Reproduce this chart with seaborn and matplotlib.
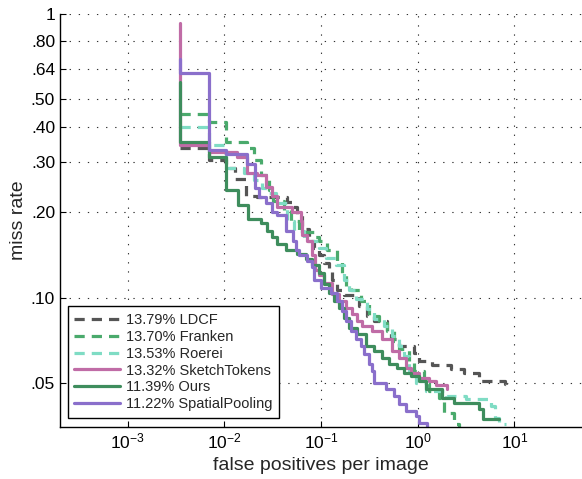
import matplotlib
matplotlib.use("Agg")
import matplotlib.pyplot as plt
import seaborn as sns

# ROC curves: false positives per image vs miss rate (step curves)
ldcf_fppi = [0.0035, 0.0070, 0.0105, 0.013, 0.0169, 0.0219, 0.0446, 0.0502, 0.0566, 0.0637,
             0.0752, 0.0847, 0.0954, 0.1074, 0.121, 0.1298, 0.1462, 0.1726, 0.2465, 0.298,
             0.3518, 0.479, 0.5267, 0.6369, 0.909, 1.024, 1.394, 2.19, 2.98, 4.255, 8.08, 8.27]
ldcf_miss = [0.336, 0.305, 0.286, 0.263, 0.229, 0.226, 0.217, 0.208, 0.195, 0.175,
             0.159, 0.150, 0.141, 0.133, 0.123, 0.115, 0.106, 0.102, 0.0937, 0.0864,
             0.0830, 0.0764, 0.0716, 0.0677, 0.0639, 0.0599, 0.0580, 0.0561, 0.0543, 0.0509, 0.0497, 0.0489]

franken_fppi = [0.0035, 0.0070, 0.0105, 0.0173, 0.0204, 0.0241, 0.0291, 0.032, 0.0416, 0.0491,
                0.0593, 0.0847, 0.0954, 0.1153, 0.1462, 0.1646, 0.181, 0.2038, 0.2585, 0.3126,
                0.3962, 0.479, 0.5657, 0.6369, 0.8077, 0.9094, 1.153, 1.298, 1.646, 1.854, 2.35, 2.647]
franken_miss = [0.443, 0.415, 0.353, 0.336, 0.305, 0.270, 0.239, 0.220, 0.203, 0.187,
                0.170, 0.163, 0.159, 0.147, 0.135, 0.120, 0.110, 0.106, 0.0976, 0.0864,
                0.0816, 0.0764, 0.0705, 0.0660, 0.0599, 0.0552, 0.0501, 0.0469, 0.0443, 0.0392, 0.0359, 0.0339]

roerei_fppi = [0.0035, 0.0070, 0.0105, 0.0161, 0.0204, 0.0247, 0.0277, 0.0344, 0.0446, 0.0527,
               0.0668, 0.0954, 0.1126, 0.1427, 0.1726, 0.1943, 0.2295, 0.298, 0.3518, 0.4461,
               0.5395, 0.6369, 0.7171, 0.8077, 0.9537, 1.209, 1.944, 3.125, 5.79, 6.37, 7.0, 8.27]
roerei_miss = [0.399, 0.344, 0.286, 0.276, 0.259, 0.243, 0.233, 0.215, 0.187, 0.172,
               0.159, 0.150, 0.138, 0.130, 0.115, 0.106, 0.0992, 0.0914, 0.0843, 0.0796,
               0.0734, 0.0677, 0.0624, 0.0543, 0.0501, 0.0469, 0.0450, 0.0439, 0.0415, 0.0377, 0.0359, 0.0359]

sketch_fppi = [0.0035, 0.0035, 0.0070, 0.0136, 0.0173, 0.0219, 0.0271, 0.0313, 0.0352, 0.0502,
               0.0622, 0.0637, 0.0717, 0.0808, 0.0867, 0.0954, 0.1074, 0.1298, 0.1533, 0.181,
               0.2087, 0.235, 0.2646, 0.3355, 0.4254, 0.5395, 0.6369, 0.7522, 0.8469, 1.024,
               1.298, 1.533, 1.991]
sketch_miss = [0.929, 0.344, 0.325, 0.312, 0.276, 0.270, 0.245, 0.229, 0.208, 0.200,
               0.187, 0.166, 0.159, 0.141, 0.125, 0.120, 0.113, 0.103, 0.0976, 0.0922,
               0.0878, 0.0830, 0.0796, 0.0764, 0.0716, 0.0650, 0.0614, 0.0566, 0.0543, 0.0522,
               0.0509, 0.0493, 0.0477]

ours_fppi = [0.0035, 0.0035, 0.0070, 0.0105, 0.0139, 0.0177, 0.0241, 0.0277, 0.0313, 0.0352,
             0.0436, 0.0566, 0.0701, 0.0808, 0.0954, 0.1074, 0.121, 0.1361, 0.1533, 0.1726,
             0.1943, 0.235, 0.291, 0.352, 0.425, 0.502, 0.607, 0.717, 0.847, 1.024,
             1.209, 1.768, 2.35, 4.255, 4.79, 7.0]
ours_miss = [0.575, 0.353, 0.312, 0.239, 0.213, 0.190, 0.183, 0.172, 0.163, 0.154,
             0.147, 0.143, 0.137, 0.130, 0.122, 0.112, 0.104, 0.0976, 0.0922, 0.0850,
             0.0783, 0.0746, 0.0677, 0.0650, 0.0614, 0.0584, 0.0566, 0.0543, 0.0530, 0.0509,
             0.0477, 0.0443, 0.0426, 0.0405, 0.0374, 0.0374]

spatial_fppi = [0.0035, 0.0035, 0.0070, 0.0105, 0.0173, 0.0209, 0.0230, 0.0271, 0.0313, 0.0352,
                0.0436, 0.0514, 0.0553, 0.0593, 0.0717, 0.0808, 0.0847, 0.100, 0.1268, 0.1462,
                0.1646, 0.181, 0.2038, 0.2295, 0.2585, 0.2774, 0.3126, 0.3355, 0.3518, 0.4678,
                0.5657, 0.6369, 0.7522, 0.9537, 1.024, 1.238]
spatial_miss = [0.693, 0.619, 0.331, 0.320, 0.297, 0.243, 0.226, 0.215, 0.201, 0.195,
                0.172, 0.159, 0.147, 0.141, 0.135, 0.128, 0.115, 0.108, 0.104, 0.0976,
                0.0900, 0.0830, 0.0764, 0.0716, 0.0677, 0.0634, 0.0584, 0.0552, 0.0501, 0.0477,
                0.0450, 0.0422, 0.0399, 0.0383, 0.0362, 0.0339]

labels = ["13.79% LDCF", "13.70% Franken", "13.53% Roerei",
          "13.32% SketchTokens", "11.39% Ours", "11.22% SpatialPooling"]
yticks = [0.05, 0.10, 0.20, 0.30, 0.40, 0.50, 0.64, 0.80, 1.0]
ytick_labels = [".05", ".10", ".20", ".30", ".40", ".50", ".64", ".80", "1"]
xticks = [1e-3, 1e-2, 1e-1, 1e0, 1e1]
xtick_labels = ["$10^{-3}$", "$10^{-2}$", "$10^{-1}$", "$10^{0}$", "$10^{1}$"]

series = [
    (ldcf_fppi, ldcf_miss, "#555555", True),
    (franken_fppi, franken_miss, "#4aaa6c", True),
    (roerei_fppi, roerei_miss, "#7fdcc4", True),
    (sketch_fppi, sketch_miss, "#c06ca6", False),
    (ours_fppi, ours_miss, "#3e8d5d", False),
    (spatial_fppi, spatial_miss, "#8a6fcb", False),
]

sns.set_style("ticks")
plt.rcParams["font.family"] = ["Liberation Sans", "DejaVu Sans"]
plt.rcParams["mathtext.default"] = "regular"

fig = plt.figure(figsize=(5.82, 4.79), dpi=100)
ax = fig.add_axes([0.103, 0.1086, 0.897, 0.8622])
ax.set_xscale("log")
ax.set_yscale("log")

for fppi, miss, color, dashed in series:
    sns.lineplot(x=fppi, y=miss, ax=ax, estimator=None, sort=False, errorbar=None,
                 color=color, lw=2.3, drawstyle="steps-post", legend=False,
                 linestyle="--" if dashed else "-")
    if dashed:
        ax.lines[-1].set_dashes([3.2, 2.2])

ax.set_xlim(2e-4, 50)
ax.set_ylim(0.035, 1)
ax.set_xticks(xticks)
ax.set_xticklabels(xtick_labels)
ax.set_yticks(yticks)
ax.set_yticklabels(ytick_labels)
ax.minorticks_off()
ax.tick_params(direction="in", length=4, width=0.8, labelsize=12.5, colors="black",
               top=False, right=False)

ax.grid(True, which="major", color="#333333", linestyle=(0, (1.2, 7)), linewidth=0.8)
for side in ["top", "right"]:
    ax.spines[side].set_visible(False)
for side in ["left", "bottom"]:
    ax.spines[side].set_linewidth(1.0)
    ax.spines[side].set_color("black")

ax.set_xlabel("false positives per image", fontsize=14, labelpad=4)
ax.set_ylabel("miss rate", fontsize=14, labelpad=3)

leg = ax.legend(ax.lines, labels, loc="lower left", bbox_to_anchor=(0.0153, 0.0218),
                borderaxespad=0, fontsize=10.5, handlelength=3.1, handletextpad=0.4,
                labelspacing=0.2, borderpad=0.45, fancybox=False, framealpha=1,
                edgecolor="black")
leg.get_frame().set_linewidth(1.0)

fig.savefig("out.png", dpi=100)
